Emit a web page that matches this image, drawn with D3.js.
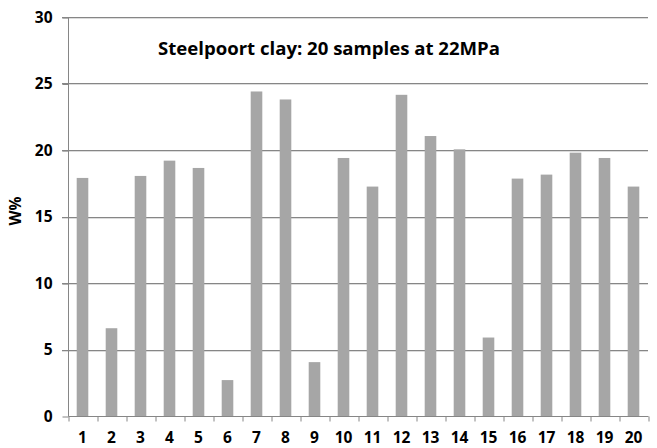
<!DOCTYPE html>
<html>
<head>
<meta charset="utf-8">
<script src="https://cdn.jsdelivr.net/npm/d3@7"></script>
<style>
  body { margin: 0; background: #fff; }
  svg text { font-family: "Open Sans", "Noto Sans", sans-serif; font-weight: 700; fill: #000; }
</style>
</head>
<body>
<div id="chart"></div>
<script>
// data
var samples = ["1", "2", "3", "4", "5", "6", "7", "8", "9", "10",
  "11", "12", "13", "14", "15", "16", "17", "18", "19", "20"];
var wValues = [17.9, 6.6, 18.05, 19.2, 18.65, 2.7, 24.4, 23.8, 4.05, 19.4,
  17.25, 24.15, 21.05, 20.05, 5.9, 17.85, 18.15, 19.8, 19.4, 17.25];
var yTicks = [0, 5, 10, 15, 20, 25, 30];
var chartTitle = "Steelpoort clay: 20 samples at 22MPa";
var yLabel = "W%";

// settings
var svgWidth = 657;
var svgHeight = 448;
var plot = { left: 68, right: 648, top: 17, bottom: 416 };
var barColor = "#a6a6a6";
var axisColor = "#868686";
var labelSize = 15.5;

var svg = d3.select("#chart")
  .append("svg")
  .attr("width", svgWidth)
  .attr("height", svgHeight);

var x = d3.scaleBand()
  .domain(samples)
  .range([plot.left, plot.right])
  .paddingInner(0.6)
  .paddingOuter(0.3);

var y = d3.scaleLinear()
  .domain([0, 30])
  .range([plot.bottom, plot.top]);

// gridlines (dark line with a light shadow under it)
var grid = svg.append("g");
yTicks.filter(d => d > 0).forEach(function (t) {
  grid.append("line")
    .attr("x1", plot.left - 6).attr("x2", plot.right)
    .attr("y1", Math.round(y(t)) + 1.5).attr("y2", Math.round(y(t)) + 1.5)
    .attr("stroke", "#dcdcdc");
  grid.append("line")
    .attr("x1", plot.left - 6).attr("x2", plot.right)
    .attr("y1", Math.round(y(t)) + 0.5).attr("y2", Math.round(y(t)) + 0.5)
    .attr("stroke", axisColor);
});

// bars
svg.append("g")
  .selectAll("rect")
  .data(wValues)
  .enter()
  .append("rect")
  .attr("x", (d, i) => x(samples[i]))
  .attr("y", d => y(d))
  .attr("width", x.bandwidth())
  .attr("height", d => y(0) - y(d))
  .attr("fill", barColor);

// y axis
var yAxis = svg.append("g")
  .attr("transform", `translate(${plot.left + 0.5}, 0.5)`)
  .call(d3.axisLeft(y).tickValues(yTicks).tickSize(6).tickPadding(10));
yAxis.select(".domain").attr("stroke", axisColor).attr("d", `M0,${y(0)}V${y(30)}`);
yAxis.selectAll(".tick line").attr("stroke", axisColor);
yAxis.selectAll("text").attr("font-size", labelSize).attr("font-family", null).attr("font-weight", 700);

// x axis: ticks at category boundaries, labels centred
var xEdges = d3.scaleLinear().domain([0, samples.length]).range([plot.left, plot.right]);
var xTickAxis = svg.append("g")
  .attr("transform", `translate(0.5, ${plot.bottom + 0.5})`)
  .call(d3.axisBottom(xEdges).tickValues(d3.range(samples.length + 1)).tickSize(5).tickFormat(""));
xTickAxis.select(".domain").attr("stroke", axisColor).attr("d", `M${plot.left},0H${plot.right}`);
xTickAxis.selectAll(".tick line").attr("stroke", axisColor);

var xAxis = svg.append("g")
  .attr("transform", `translate(0, ${plot.bottom})`)
  .call(d3.axisBottom(x).tickSize(0).tickPadding(16));
xAxis.select(".domain").remove();
xAxis.selectAll("text").attr("font-size", labelSize).attr("font-family", null).attr("font-weight", 700);

// y label
svg.append("text")
  .attr("transform", "translate(21, 211) rotate(-90)")
  .attr("text-anchor", "middle")
  .attr("font-size", labelSize)
  .attr("font-weight", 700)
  .text(yLabel);

// title
svg.append("text")
  .attr("x", 158)
  .attr("y", 55)
  .attr("font-size", 18.5)
  .attr("font-weight", 700)
  .attr("textLength", 342)
  .attr("lengthAdjust", "spacingAndGlyphs")
  .text(chartTitle);
</script>
</body>
</html>
